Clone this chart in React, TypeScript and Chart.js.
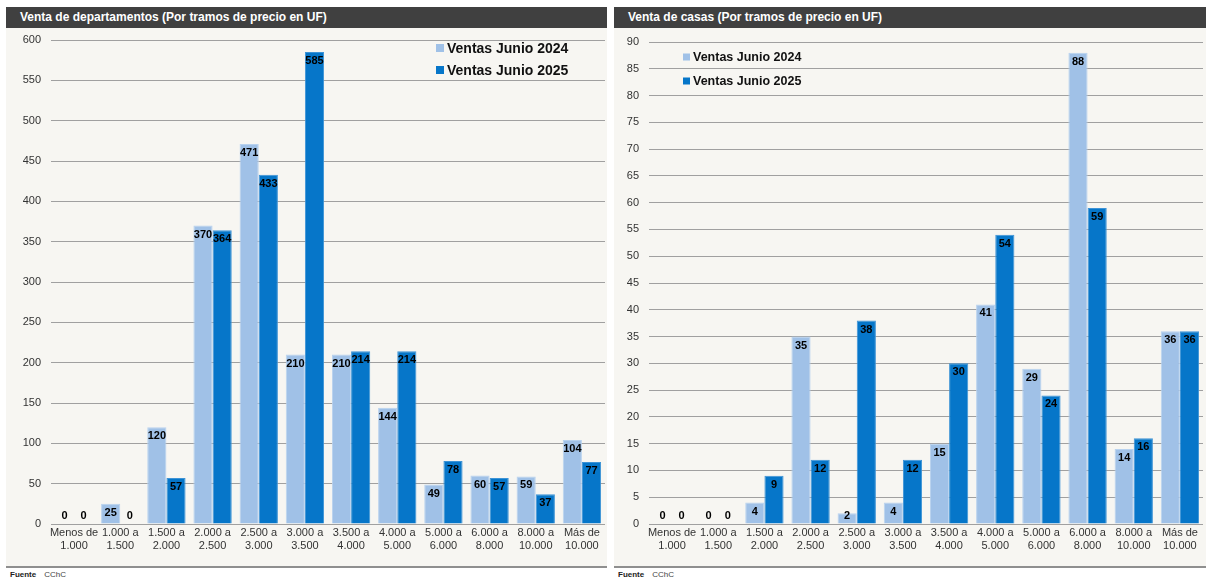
import React, { useEffect, useRef } from "react";
import { Chart, registerables } from "chart.js";

Chart.register(...registerables);

// Price brackets (UF), shared by both panels
const categories: string[][] = [
  ["Menos de", "1.000"],
  ["1.000 a", "1.500"],
  ["1.500 a", "2.000"],
  ["2.000 a", "2.500"],
  ["2.500 a", "3.000"],
  ["3.000 a", "3.500"],
  ["3.500 a", "4.000"],
  ["4.000 a", "5.000"],
  ["5.000 a", "6.000"],
  ["6.000 a", "8.000"],
  ["8.000 a", "10.000"],
  ["Más de", "10.000"],
];

const seriesNames = ["Ventas Junio 2024", "Ventas Junio 2025"];

// Apartment sales
const deptos2024 = [0, 25, 120, 370, 471, 210, 210, 144, 49, 60, 59, 104];
const deptos2025 = [0, 0, 57, 364, 433, 585, 214, 214, 78, 57, 37, 77];

// House sales
const casas2024 = [0, 0, 4, 35, 2, 4, 15, 41, 29, 88, 14, 36];
const casas2025 = [0, 0, 9, 12, 38, 12, 30, 54, 24, 59, 16, 36];

const COLOR_2024 = "#a0c1e7";
const COLOR_2025 = "#0676c9";
const BORDER_2024 = "#b8d2ef";
const BORDER_2025 = "#3d93d6";
const FONT = "'Liberation Sans', Arial, sans-serif";

const PANEL_TOP = 7;
const TITLE_H = 21;
const PANEL_BOTTOM = 566;

type PanelProps = {
  left: number;
  width: number;
  title: string;
  a: number[];
  b: number[];
  yMax: number;
  yStep: number;
  yAxisWidth: number;
  padRight: number;
  padTop: number;
  legendX: number;
  legendY: number[];
  legendFont: number;
  legendBox: number;
};

function Panel(p: PanelProps) {
  const ref = useRef<HTMLCanvasElement | null>(null);
  const canvasH = PANEL_BOTTOM - (PANEL_TOP + TITLE_H);

  useEffect(() => {
    if (!ref.current) return;

    const valueLabels = {
      id: "valueLabels",
      afterDatasetsDraw(chart: any) {
        const ctx = chart.ctx;
        ctx.save();
        ctx.font = `bold 11px ${FONT}`;
        ctx.fillStyle = "#000";
        ctx.textAlign = "center";
        ctx.textBaseline = "middle";
        chart.data.datasets.forEach((ds: any, di: number) => {
          const meta = chart.getDatasetMeta(di);
          meta.data.forEach((bar: any, i: number) => {
            const y = Math.min(bar.y + 9, bar.base - 8);
            ctx.fillText(String(ds.data[i]), bar.x, y);
          });
        });
        ctx.restore();
      },
    };

    const legend = {
      id: "panelLegend",
      afterDraw(chart: any) {
        const ctx = chart.ctx;
        ctx.save();
        const colors = [COLOR_2024, COLOR_2025];
        seriesNames.forEach((name, i) => {
          const cy = p.legendY[i];
          ctx.fillStyle = colors[i];
          ctx.fillRect(p.legendX, cy - p.legendBox / 2, p.legendBox, p.legendBox);
          ctx.fillStyle = "#111";
          ctx.font = `bold ${p.legendFont}px ${FONT}`;
          ctx.textAlign = "left";
          ctx.textBaseline = "middle";
          ctx.fillText(name, p.legendX + p.legendBox + 3, cy + 1);
        });
        ctx.restore();
      },
    };

    const chart = new Chart(ref.current, {
      type: "bar",
      data: {
        labels: categories,
        datasets: [
          {
            label: seriesNames[0],
            data: p.a,
            backgroundColor: COLOR_2024,
            borderColor: BORDER_2024,
            borderWidth: 1,
            categoryPercentage: 0.83,
            barPercentage: 1,
          },
          {
            label: seriesNames[1],
            data: p.b,
            backgroundColor: COLOR_2025,
            borderColor: BORDER_2025,
            borderWidth: 1,
            categoryPercentage: 0.83,
            barPercentage: 1,
          },
        ],
      },
      options: {
        responsive: false,
        animation: false,
        devicePixelRatio: 1,
        layout: { padding: { top: p.padTop, right: p.padRight, left: 0, bottom: 0 } },
        plugins: {
          legend: { display: false },
          tooltip: { enabled: false },
        },
        scales: {
          x: {
            grid: { display: false },
            border: { display: false },
            ticks: {
              color: "#333",
              font: { family: FONT, size: 11, lineHeight: 1.2 },
              padding: -6,
              maxRotation: 0,
              autoSkip: false,
            },
            afterFit: (s: any) => {
              s.height = 42;
            },
          },
          y: {
            min: 0,
            max: p.yMax,
            grid: { color: "#a0a0a0", lineWidth: 1, drawTicks: false },
            border: { display: false },
            ticks: {
              stepSize: p.yStep,
              color: "#333",
              font: { family: FONT, size: 11 },
              padding: 10,
            },
            afterFit: (s: any) => {
              s.width = p.yAxisWidth;
              s.paddingTop = 0;
              s.paddingBottom = 0;
            },
          },
        },
      },
      plugins: [valueLabels, legend],
    });
    return () => chart.destroy();
  }, []);

  return (
    <div
      style={{
        position: "absolute",
        left: p.left,
        top: PANEL_TOP,
        width: p.width,
        height: PANEL_BOTTOM - PANEL_TOP + 2,
        background: "#f7f6f2",
      }}
    >
      <div
        style={{
          height: TITLE_H,
          background: "#404040",
          color: "#fff",
          font: `bold 12px ${FONT}`,
          lineHeight: `${TITLE_H}px`,
          paddingLeft: 14,
          whiteSpace: "nowrap",
        }}
      >
        {p.title}
      </div>
      <canvas ref={ref} width={p.width} height={canvasH} style={{ display: "block" }} />
      <div style={{ height: 2, background: "#8f8f8f" }} />
      <div
        style={{
          position: "absolute",
          left: 4,
          top: PANEL_BOTTOM - PANEL_TOP + 4,
          font: `8px ${FONT}`,
          color: "#444",
          whiteSpace: "nowrap",
        }}
      >
        <span style={{ fontWeight: "bold", color: "#222" }}>Fuente</span>
        <span style={{ marginLeft: 8 }}>CChC</span>
      </div>
    </div>
  );
}

export default function App() {
  return (
    <div
      style={{
        position: "absolute",
        left: 0,
        top: 0,
        width: 1206,
        height: 579,
        background: "#fff",
        overflow: "hidden",
      }}
    >
      <Panel
        left={6}
        width={601}
        title="Venta de departamentos (Por tramos de precio en UF)"
        a={deptos2024}
        b={deptos2025}
        yMax={600}
        yStep={50}
        yAxisWidth={45}
        padRight={2}
        padTop={12}
        legendX={430}
        legendY={[20, 42]}
        legendFont={14}
        legendBox={8}
      />
      <Panel
        left={614}
        width={592}
        title="Venta de casas (Por tramos de precio en UF)"
        a={casas2024}
        b={casas2025}
        yMax={90}
        yStep={5}
        yAxisWidth={35}
        padRight={3}
        padTop={14}
        legendX={69}
        legendY={[29, 53]}
        legendFont={12.5}
        legendBox={7}
      />
    </div>
  );
}
